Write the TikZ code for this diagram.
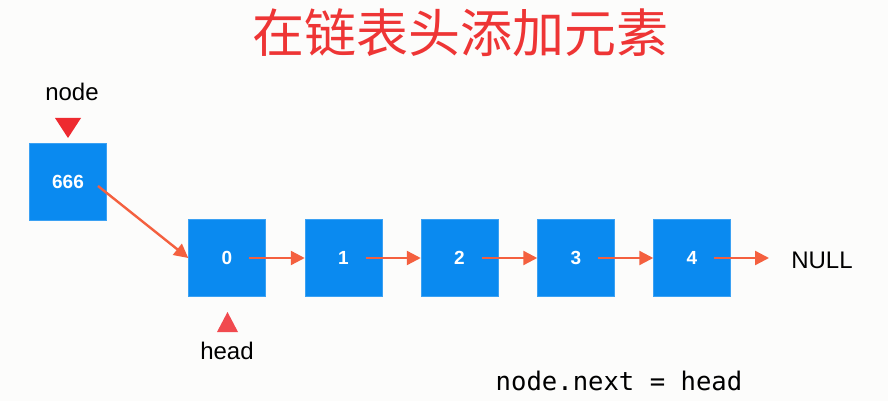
\documentclass[tikz,border=0pt]{standalone}
\usepackage{fontspec}
\setmainfont{Liberation Sans}
\setmonofont{DejaVu Sans Mono}
\newfontfamily\cjk{Noto Sans CJK SC}
\usetikzlibrary{arrows.meta}
\definecolor{boxblue}{HTML}{0A8AF0}
\definecolor{arrred}{HTML}{F4603F}
\definecolor{trired}{HTML}{EE2A30}
\definecolor{titlered}{HTML}{EE3535}
\definecolor{bg}{HTML}{FCFCFB}
\tikzset{
  listbox/.style={fill=boxblue, draw=boxblue!80!white, line width=0.5pt, minimum width=77pt, minimum height=77pt, inner sep=0pt, text=white, font=\fontsize{19}{19}\selectfont\bfseries},
  link/.style={draw=arrred, line width=2.4pt, -{Triangle[length=14pt,width=14pt]}},
  lbl/.style={font=\fontsize{24}{24}\selectfont, text=black, inner sep=0pt},
  tri/.style={fill=trired, draw=none},
}
\begin{document}
\begin{tikzpicture}[x=1pt,y=-1pt]
\fill[bg] (0,0) rectangle (888,401);
\useasboundingbox (0,0) rectangle (888,401);
\node[font=\cjk\fontsize{52}{52}\selectfont, text=titlered, inner sep=0pt] (title) at (460,33) {在链表头添加元素};
\node[listbox] (n666) at (68,182) {666};
\node[listbox] (n0) at (227,258) {0};
\node[listbox] (n1) at (343.5,258) {1};
\node[listbox] (n2) at (459.5,258) {2};
\node[listbox] (n3) at (576,258) {3};
\node[listbox] (n4) at (692,258) {4};
\node[lbl] (null) at (822,260) {NULL};
\coordinate (nullend) at (769,258);
\node[lbl] (nodelbl) at (72,92) {node};
\node[lbl] (headlbl) at (227,351) {head};
\node[font=\ttfamily\fontsize{25.6}{25.6}\selectfont, inner sep=0pt] (code) at (619,381) {node.next = head};
\fill[tri] (55,118) -- (81,118) -- (68,138) -- cycle;
\fill[tri,fill=trired!85!white] (217,332) -- (238,332) -- (227.5,312) -- cycle;
\draw[link] ([xshift=30pt,yshift=-4pt]n666.center) -- (n0.west);
\draw[link] ([xshift=22pt]n0.center) -- (n1.west);
\draw[link] ([xshift=22pt]n1.center) -- (n2.west);
\draw[link] ([xshift=22pt]n2.center) -- (n3.west);
\draw[link] ([xshift=22pt]n3.center) -- (n4.west);
\draw[link] ([xshift=22pt]n4.center) -- (nullend);
\end{tikzpicture}
\end{document}
